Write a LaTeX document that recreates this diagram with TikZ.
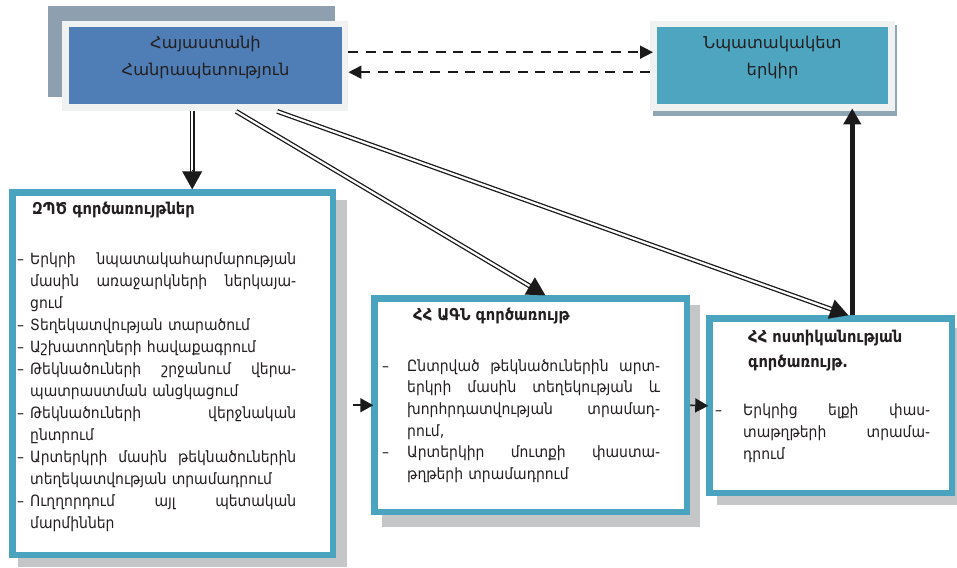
\documentclass[tikz,border=0pt]{standalone}
\usepackage{fontspec}
\setmainfont{DejaVu Sans}
\newfontfamily\bodyfont{DejaVu Sans}[FakeStretch=0.9]
\usetikzlibrary{arrows.meta,calc}
\definecolor{tealB}{HTML}{4AA3BF}
\definecolor{tealF}{HTML}{4EA5C0}
\definecolor{repB}{HTML}{4F7DB5}
\definecolor{repS}{HTML}{8E9FB0}
\definecolor{tgtS}{HTML}{8EA6B3}
\definecolor{frameC}{HTML}{F0F2F2}
\definecolor{grayS}{HTML}{C5C6C8}
\definecolor{txt}{HTML}{231F20}
\definecolor{ink}{HTML}{1A1A1A}
\newcommand\fst{\rule{0pt}{15pt}}
\newcommand\BJ[3]{\noindent\makebox[#1][l]{\fst–}\hbox to #2{#3}\par}
\newcommand\BL[2]{\noindent\makebox[#1][l]{\fst–}#2\par}
\newcommand\CJ[3]{\noindent\hspace*{#1}\hbox to #2{\fst#3}\par}
\newcommand\CL[2]{\noindent\hspace*{#1}\fst#2\par}
\begin{document}
\begin{tikzpicture}[x=1pt,y=-1pt,
  tbox/.style={draw=tealB, line width=6.5pt, fill=white, inner sep=0, anchor=north west},
  frame/.style={fill=frameC, inner sep=0, anchor=north west},
  toptext/.style={inner sep=0, anchor=north, align=center, text=txt, font=\fontsize{16.3}{27}\selectfont},
  ttl/.style={inner sep=0, anchor=north west, align=left, text=txt, font=\bodyfont\bfseries\fontsize{16.3}{25}\selectfont},
  body/.style={inner sep=0, anchor=north west, text=txt, font=\bodyfont\fontsize{15.5}{22}\selectfont},
  dbl/.style={draw=ink, double=white, line width=1.3pt, double distance=2.2pt, shorten >=16pt},
  dblhead/.style={draw=ink, line width=0.1pt, -{Triangle[length=18pt,width=20pt]}},
  dsh/.style={draw=ink, line width=1.6pt, dash pattern=on 10pt off 7.5pt, -{Triangle[length=13pt,width=13pt]}},
  thin/.style={draw=ink, line width=1.6pt, -{Triangle[length=13pt,width=14pt]}},
  thick/.style={draw=ink, line width=4.5pt, -{Triangle[length=16pt,width=17pt]}}
]
\useasboundingbox (0,0) rectangle (957,567);

% --- Republic of Armenia box
\fill[repS] (48,6) rectangle (335,97);
\node[frame, minimum width=286pt, minimum height=90pt] (rep) at (62,21) {};
\fill[repB] ([shift={(7,6)}]rep.north west) rectangle ([shift={(-6,-7)}]rep.south east);
\node[toptext] (repT) at (205.5,33) {\fst Հայաստանի\\Հանրապետություն};

% --- Target country box
\fill[tgtS] (653,25) rectangle (897,116);
\node[frame, minimum width=245pt, minimum height=90pt] (tgt) at (650,21) {};
\fill[tealF] ([shift={(7,6)}]tgt.north west) rectangle ([shift={(-7,-7)}]tgt.south east);
\node[toptext] (tgtT) at (772.5,33) {\fst Նպատակակետ\\երկիր};

% --- ZPC box
\fill[grayS] (18,200) rectangle (347,567);
\node[tbox, minimum width=320.5pt, minimum height=362.5pt] (zpc) at (9.25,189.25) {};
\draw[tealB, line width=1.5pt] ([shift={(5.75,5.75)}]zpc.north west) rectangle ([shift={(-5.75,-5.75)}]zpc.south east);
\node[ttl] (zpcT) at (32,199) {\fst ԶՊԾ գործառույթներ};
\node[body, text width=279pt] (zpcB) at (17,249) {%
\BJ{13pt}{266pt}{Երկրի \hfill նպատակահարմարության}
\CJ{13pt}{266pt}{մասին \hfill առաջարկների \hfill ներկայա-}
\CL{13pt}{ցում}
\BL{13pt}{Տեղեկատվության տարածում}
\BL{13pt}{Աշխատողների հավաքագրում}
\BJ{13pt}{266pt}{Թեկնածուների \hfill շրջանում \hfill վերա-}
\CL{13pt}{պատրաստման անցկացում}
\BJ{13pt}{266pt}{Թեկնածուների \hfill վերջնական}
\CL{13pt}{ընտրում}
\BJ{13pt}{266pt}{Արտերկրի \hfill մասին \hfill թեկնածուներին}
\CL{13pt}{տեղեկատվության տրամադրում}
\BJ{13pt}{266pt}{Ուղղորդում \hfill այլ \hfill պետական}
\CL{13pt}{մարմիններ}};

% --- MFA box
\fill[grayS] (382,305) rectangle (700,527);
\node[tbox, minimum width=312.5pt, minimum height=213.5pt] (agn) at (371.25,295.25) {};
\draw[tealB, line width=1.5pt] ([shift={(5.75,5.75)}]agn.north west) rectangle ([shift={(-5.75,-5.75)}]agn.south east);
\node[ttl] (agnT) at (413,305) {\fst ՀՀ ԱԳՆ գործառույթ};
\node[body, text width=278pt, font=\bodyfont\fontsize{15.5}{21.6}\selectfont] (agnB) at (382,356) {%
\BJ{25pt}{253pt}{Ընտրված \hfill թեկնածուներին \hfill արտ-}
\CJ{25pt}{253pt}{երկրի \hfill մասին \hfill տեղեկության \hfill և}
\CJ{25pt}{253pt}{խորհրդատվության \hfill տրամադ-}
\CL{25pt}{րում,}
\BJ{25pt}{253pt}{Արտերկիր \hfill մուտքի \hfill փաստա-}
\CL{25pt}{թղթերի տրամադրում}};

% --- Police box
\fill[grayS] (717,328) rectangle (957,505);
\node[tbox, minimum width=242.5pt, minimum height=174.5pt] (pol) at (706.25,315.25) {};
\draw[tealB, line width=1.5pt] ([shift={(5.75,5.75)}]pol.north west) rectangle ([shift={(-5.75,-5.75)}]pol.south east);
\node[ttl] (polT) at (748,327) {\fst ՀՀ ոստիկանության\\գործառույթ.};
\node[body, text width=215pt] (polB) at (715,400) {%
\BJ{28pt}{187pt}{Երկրից \hfill ելքի \hfill փաս-}
\CJ{28pt}{187pt}{տաթղթերի \hfill տրամա-}
\CL{28pt}{դրում}};

% --- connectors
\draw[dsh, shorten >=-3pt] ([yshift=14pt]rep.east) -- ([yshift=14pt]rep.east -| tgt.west);
\draw[dsh] ([yshift=-6pt]tgt.west) -- ([yshift=-6pt]tgt.west -| rep.east);

\draw[dbl] ([xshift=-13pt]rep.south) -- ([xshift=-13pt]rep.south |- zpc.north);
\draw[dblhead] ([xshift=-13pt,yshift=19pt]rep.south |- zpc.north) -- ([xshift=-13pt]rep.south |- zpc.north);

\draw[dbl] ([xshift=31pt]rep.south) -- ([xshift=14.5pt]agn.north);
\draw[dblhead] ($([xshift=14.5pt]agn.north)!19pt!([xshift=31pt]rep.south)$) -- ([xshift=14.5pt]agn.north);

\draw[dbl] ([xshift=72pt]rep.south) -- ([xshift=17.5pt]pol.north);
\draw[dblhead] ($([xshift=17.5pt]pol.north)!19pt!([xshift=72pt]rep.south)$) -- ([xshift=17.5pt]pol.north);

\draw[thick, shorten >=-3pt] ([xshift=21.5pt]pol.north) -- ([xshift=21.5pt]pol.north |- tgt.south);

\draw[thin, shorten <=16.5pt, shorten >=-2pt] (agn.west -| zpc.east) -- (agn.west);
\draw[thin, shorten >=-2pt] (agn.east) -- (pol.west);
\end{tikzpicture}
\end{document}
